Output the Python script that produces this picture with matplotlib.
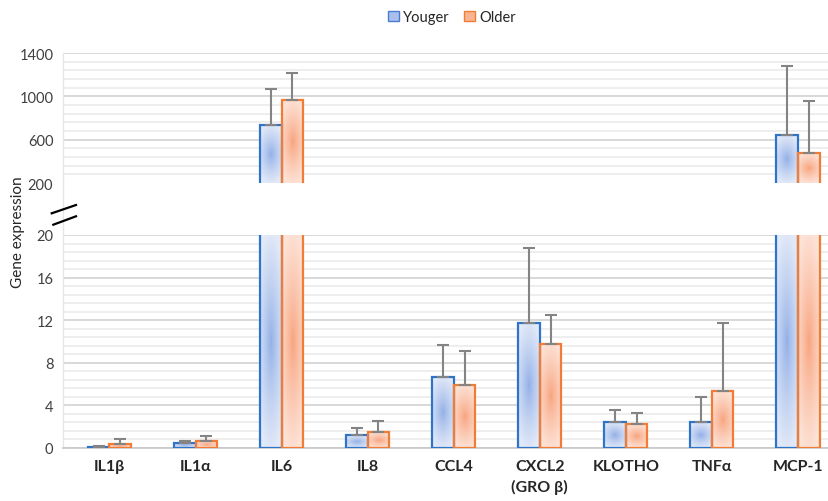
import numpy as np
import matplotlib
matplotlib.use('Agg')
import matplotlib.pyplot as plt
from matplotlib.colors import to_rgb
from matplotlib.lines import Line2D
from matplotlib.patches import Patch

plt.rcParams['font.family'] = ['Lato', 'DejaVu Sans']

# ---------------- data ----------------
categories = ['IL1β', 'IL1α', 'IL6', 'IL8', 'CCL4', 'CXCL2\n(GRO β)', 'KLOTHO', 'TNFα', 'MCP-1']
series_names = ['Youger', 'Older']
younger = [0.12, 0.5, 731, 1.22, 6.7, 11.77, 2.4, 2.4, 643]
younger_err = [0.03, 0.18, 336, 0.63, 3.0, 7.03, 1.2, 2.4, 638]
older = [0.35, 0.63, 966, 1.47, 5.9, 9.8, 2.25, 5.35, 474]
older_err = [0.5, 0.47, 251, 1.06, 3.18, 2.7, 1.05, 6.35, 480]
top_ticks = [200, 600, 1000, 1400]
bottom_ticks = [0, 4, 8, 12, 16, 20]

# ---------------- style ----------------
blue_edge, orange_edge = '#2e75c9', '#f07c35'
blue_center, blue_outer = '#90aee6', '#e2e9f8'
orange_center, orange_outer = '#f8a27c', '#fde2d6'
W, H = 829, 502

fig = plt.figure(figsize=(W / 100, H / 100), dpi=100)
left = 63 / W
ax_top = fig.add_axes([left, 1 - 184 / H, 1 - left, (184 - 54) / H])
ax_bot = fig.add_axes([left, 1 - 449 / H, 1 - left, (449 - 236) / H])

x = np.arange(len(categories))
bw = 0.25
xlim = (-0.54, 8.36)


def gradient_fill(ax, bar, c_center, c_outer):
    x0, y0 = bar.get_x(), bar.get_y()
    w, h = bar.get_width(), bar.get_height()
    ylo, yhi = ax.get_ylim()
    ya, yb = max(y0, ylo), min(y0 + h, yhi)
    if yb <= ya:
        return
    ny, nx = 120, 40
    X, Y = np.meshgrid(np.linspace(-1, 1, nx), np.linspace(-1, 1, ny))
    t = np.clip(np.sqrt((0.75 * X) ** 2 + Y ** 2) / 1.05, 0, 1) ** 0.8
    c0 = np.array(to_rgb(c_center))
    c1 = np.array(to_rgb(c_outer))
    img = c0[None, None, :] + (c1 - c0)[None, None, :] * t[..., None]
    ax.imshow(img, extent=(x0, x0 + w, ya, yb), origin='lower', aspect='auto',
              interpolation='bilinear', zorder=2)


for ax, ylim, major, minor_step in [
    (ax_top, (200, 1400), top_ticks, 80),
    (ax_bot, (0, 20), bottom_ticks, 0.8),
]:
    ax.set_xlim(*xlim)
    ax.set_ylim(*ylim)
    bars_y = ax.bar(x - bw / 2, younger, bw, facecolor='none', edgecolor=blue_edge,
                    linewidth=1.6, zorder=3)
    bars_o = ax.bar(x + bw / 2, older, bw, facecolor='none', edgecolor=orange_edge,
                    linewidth=1.6, zorder=3)
    ax.set_xlim(*xlim)
    ax.set_ylim(*ylim)
    for b in bars_y:
        gradient_fill(ax, b, blue_center, blue_outer)
    for b in bars_o:
        gradient_fill(ax, b, orange_center, orange_outer)
    ax.errorbar(x - bw / 2, younger, yerr=[np.zeros(len(x)), younger_err], fmt='none',
                ecolor='#848484', elinewidth=1.5, capsize=4, capthick=1.5, zorder=4)
    ax.errorbar(x + bw / 2, older, yerr=[np.zeros(len(x)), older_err], fmt='none',
                ecolor='#848484', elinewidth=1.5, capsize=4, capthick=1.5, zorder=4)
    ax.set_xlim(*xlim)
    ax.set_ylim(*ylim)
    ax.set_yticks(major)
    ax.set_yticks(np.arange(ylim[0], ylim[1] + 1e-9, minor_step), minor=True)
    ax.grid(which='major', axis='y', color='#d2d2d2', linewidth=1.2)
    ax.grid(which='minor', axis='y', color='#ebebeb', linewidth=1.2)
    ax.set_axisbelow(True)
    ax.tick_params(axis='y', which='both', length=0, pad=7, labelsize=10.5, labelcolor='#404040')
    for s in ['top', 'right', 'bottom']:
        ax.spines[s].set_visible(False)
    ax.spines['left'].set_color('#e6e6e6')
    ax.spines['left'].set_linewidth(1.0)
    ax.set_facecolor('none')

ax_top.yaxis.get_gridlines()[0].set_visible(False)
ax_top.set_xticks([])
ax_bot.spines['bottom'].set_visible(True)
ax_bot.spines['bottom'].set_color('#c8c8c8')
ax_bot.spines['bottom'].set_linewidth(1.2)
ax_bot.set_xticks(x)
ax_bot.set_xticklabels(categories, fontsize=11.5, fontweight='bold', color='#262626',
                       linespacing=1.45)
ax_bot.tick_params(axis='x', length=0, pad=8)

# connect the faint left axis line through the gap
fig.add_artist(Line2D([left, left], [1 - 236 / H, 1 - 184 / H], transform=fig.transFigure,
                      color='#e6e6e6', lw=1.0))
# break marks
for (xa, ya, xb, yb) in [(51.7, 214.3, 76, 206), (53.3, 225.7, 76, 217.3)]:
    fig.add_artist(Line2D([xa / W, xb / W], [1 - ya / H, 1 - yb / H], transform=fig.transFigure,
                          color='black', lw=1.6))

fig.text(18 / W, 1 - 232 / H, 'Gene expression', rotation=90, va='center', ha='center',
         fontsize=11, color='#262626')

handles = [Patch(facecolor='#a9c0ee', edgecolor='#4a7cd0', linewidth=1.0),
           Patch(facecolor='#f9b592', edgecolor=orange_edge, linewidth=1.0)]
fig.legend(handles, series_names, loc='center', bbox_to_anchor=(452 / W, 1 - 18 / H),
           ncol=2, frameon=False, fontsize=10.5, handlelength=0.75, handleheight=0.75,
           handletextpad=0.3, columnspacing=1.0, labelcolor='#262626')

fig.savefig('out.png', dpi=100)
